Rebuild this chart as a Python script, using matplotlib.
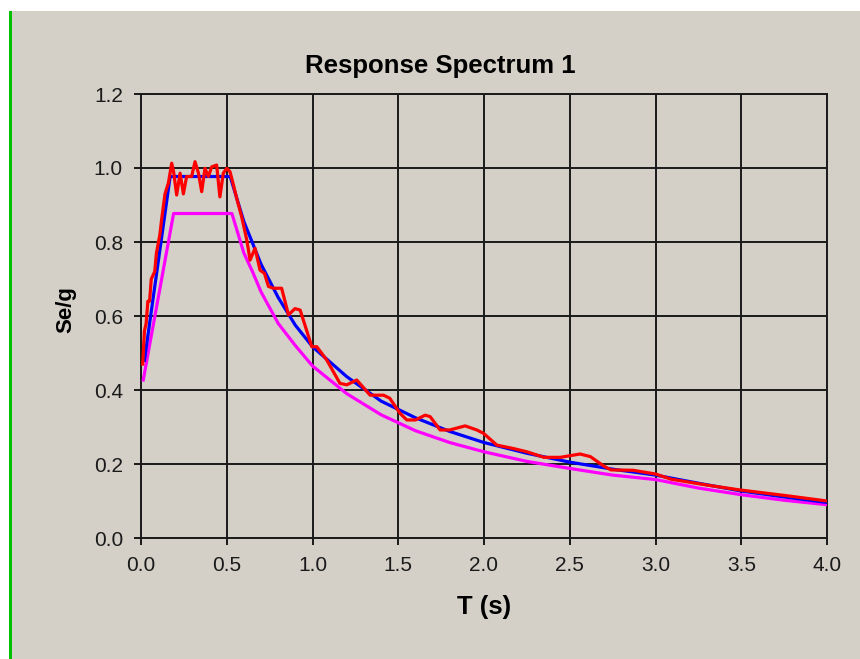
import matplotlib
matplotlib.use("Agg")
import matplotlib.pyplot as plt
from matplotlib.patches import Rectangle
from matplotlib.ticker import FormatStrFormatter, MultipleLocator

# ---- data ----
t_design = [0.013, 0.19, 0.53, 0.60, 0.65, 0.70, 0.80, 0.90, 1.00, 1.20, 1.40, 1.60,
            1.80, 2.00, 2.25, 2.50, 2.75, 3.00, 3.25, 3.50, 3.75, 4.00]
se_design = [0.427, 0.877, 0.877, 0.770, 0.720, 0.665, 0.580, 0.520, 0.465, 0.390, 0.333,
             0.290, 0.258, 0.233, 0.207, 0.188, 0.170, 0.158, 0.135, 0.117, 0.102, 0.090]

t_target = [0.02, 0.17, 0.52, 0.60, 0.70, 0.80, 0.90, 1.00, 1.20, 1.40, 1.60, 1.80,
            2.00, 2.25, 2.50, 2.75, 3.00, 3.25, 3.50, 3.75, 4.00]
se_target = [0.48, 0.977, 0.977, 0.855, 0.740, 0.650, 0.575, 0.517, 0.436, 0.370, 0.325,
             0.288, 0.258, 0.229, 0.205, 0.186, 0.170, 0.148, 0.127, 0.111, 0.096]

t_record = [0.01, 0.02, 0.03, 0.04, 0.05, 0.06, 0.08, 0.09, 0.11, 0.12, 0.14, 0.16,
            0.179, 0.19, 0.208, 0.228, 0.247, 0.266, 0.295, 0.315, 0.335, 0.354, 0.373,
            0.393, 0.412, 0.441, 0.46, 0.48, 0.50, 0.519, 0.539, 0.558, 0.587, 0.617,
            0.636, 0.665, 0.694, 0.72, 0.743, 0.772, 0.82, 0.86, 0.898,
            0.928, 0.996, 1.025, 1.083, 1.16, 1.20, 1.258, 1.336, 1.414, 1.45, 1.51, 1.55,
            1.60, 1.657, 1.686, 1.744, 1.80, 1.89, 1.958, 1.997, 2.075, 2.17, 2.25, 2.35,
            2.445, 2.56, 2.62, 2.70, 2.74, 2.87, 3.00, 3.09, 3.30, 3.49, 3.77, 4.00]
se_record = [0.47, 0.56, 0.58, 0.64, 0.64, 0.70, 0.72, 0.77, 0.82, 0.86, 0.93, 0.96,
             1.013, 0.99, 0.927, 0.986, 0.93, 0.977, 0.977, 1.017, 0.986, 0.936, 0.999,
             0.977, 1.003, 1.008, 0.922, 0.986, 0.999, 0.99, 0.954, 0.918, 0.868, 0.805,
             0.751, 0.783, 0.724, 0.715, 0.68, 0.675, 0.675, 0.603, 0.62,
             0.616, 0.517, 0.517, 0.481, 0.418, 0.414, 0.427, 0.386, 0.386, 0.378, 0.337, 0.319,
             0.319, 0.332, 0.328, 0.292, 0.292, 0.303, 0.292, 0.283, 0.251, 0.242, 0.233, 0.218,
             0.218, 0.227, 0.220, 0.194, 0.184, 0.183, 0.173, 0.159, 0.143, 0.130, 0.114, 0.100]

title = "Response Spectrum 1"
xlabel = "T (s)"
ylabel = "Se/g"

GRAY = "#D4D0C8"
W, H = 860, 659

plt.rcParams['font.family'] = ['Liberation Sans', 'DejaVu Sans']
fig = plt.figure(figsize=(W / 100, H / 100), dpi=100, facecolor="white")

# gray panel and green left border
fig.patches.append(Rectangle((12 / W, 0), (W - 12) / W, (H - 11) / H,
                             transform=fig.transFigure, facecolor=GRAY, edgecolor="none", zorder=-10))
fig.patches.append(Rectangle((9 / W, 0), 3 / W, (H - 11) / H,
                             transform=fig.transFigure, facecolor="#00C000", edgecolor="none", zorder=-9))

left, right, top, bottom = 141, 827, 94, 538
ax = fig.add_axes([left / W, (H - bottom) / H, (right - left) / W, (bottom - top) / H])
ax.set_zorder(5)
ax.set_facecolor(GRAY)

ax.plot(t_design, se_design, color="#FF00FF", lw=2.3, zorder=3)
ax.plot(t_target, se_target, color="#0000FF", lw=2.3, zorder=4)
ax.plot(t_record, se_record, color="#FF0000", lw=2.3, zorder=5)

ax.set_xlim(0, 4.0)
ax.set_ylim(0, 1.2)
ax.xaxis.set_major_locator(MultipleLocator(0.5))
ax.yaxis.set_major_locator(MultipleLocator(0.2))
ax.xaxis.set_major_formatter(FormatStrFormatter('%.1f'))
ax.yaxis.set_major_formatter(FormatStrFormatter('%.1f'))
ax.grid(True, color="#1a1a1a", lw=1.4)
ax.set_axisbelow(True)
for s in ax.spines.values():
    s.set_color("#1a1a1a")
    s.set_linewidth(1.4)
ax.tick_params(direction="out", length=5, width=1.4, color="#1a1a1a",
               labelsize=15, labelcolor="#1a1a1a", pad=8)

fig.text(440 / W, 1 - 73 / H, title, ha="center", va="baseline",
         fontsize=18.5, fontweight="bold", color="black", zorder=6)
fig.text(484 / W, 1 - 614 / H, xlabel, ha="center", va="baseline",
         fontsize=18.5, fontweight="bold", color="black", zorder=6)
fig.text(66 / W, 1 - 310 / H, ylabel, ha="center", va="center", rotation=90,
         fontsize=16, fontweight="bold", color="black", zorder=6)

fig.savefig("out.png", dpi=100, facecolor="white")
